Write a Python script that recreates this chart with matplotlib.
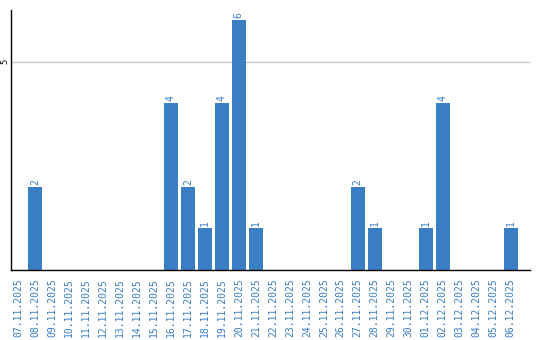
import matplotlib
matplotlib.use('Agg')
import matplotlib.pyplot as plt
import pandas as pd

# Datos del grafico
fechas = pd.date_range('2025-11-07', '2025-12-06', freq='D').strftime('%d.%m.%Y').tolist()
conteos = {'08.11.2025': 2, '16.11.2025': 4, '17.11.2025': 2, '18.11.2025': 1,
           '19.11.2025': 4, '20.11.2025': 6, '21.11.2025': 1, '27.11.2025': 2,
           '28.11.2025': 1, '01.12.2025': 1, '02.12.2025': 4, '06.12.2025': 1}
valores = [conteos.get(f, 0) for f in fechas]

azul = '#3a7ec3'

fig = plt.figure(figsize=(5.4, 3.4), dpi=100)
ax = fig.add_axes([0.0204, 0.206, 0.9606, 0.7646])

x = list(range(len(fechas)))
ax.bar(x, valores, width=0.82, color=azul, zorder=2)

for xi, v in zip(x, valores):
    if v > 0:
        ax.text(xi, v + 0.05, str(v), rotation=90, ha='center', va='bottom',
                color=azul, fontsize=7, family='DejaVu Sans Mono')

ax.set_xlim(-0.41, 30.12)
ax.set_ylim(0, 6.24)
ax.set_yticks([5])
ax.set_yticklabels(['5'], rotation=90, va='center', fontsize=6, color='black')
ax.yaxis.grid(True, color='#c8c8c8', linewidth=1, zorder=0)
ax.tick_params(axis='y', length=0, pad=1)

ax.set_xticks(x)
ax.set_xticklabels(fechas, rotation=90, color=azul, fontsize=7, family='DejaVu Sans Mono')
ax.tick_params(axis='x', length=0, pad=6)

ax.spines['top'].set_visible(False)
ax.spines['right'].set_visible(False)
ax.spines['left'].set_linewidth(1.0)
ax.spines['bottom'].set_linewidth(1.0)

plt.savefig('out.png', dpi=100)
